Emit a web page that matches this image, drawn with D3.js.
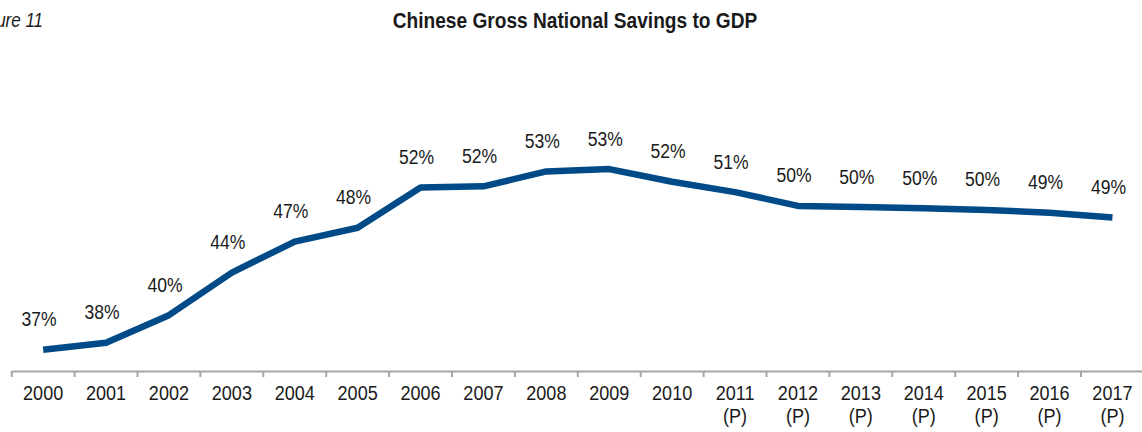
<!DOCTYPE html>
<html><head><meta charset="utf-8">
<script src="https://cdn.jsdelivr.net/npm/d3@7"></script>
<style>
html,body{margin:0;padding:0;background:#fff;}
svg{display:block;}
text{font-family:"Liberation Sans Narrow","Arial Narrow","Liberation Sans",Arial,sans-serif;fill:#1a1a1a;}
</style></head>
<body>
<svg id="chart" width="1142" height="432"></svg>
<script>
const categories = ["2000","2001","2002","2003","2004","2005","2006","2007","2008","2009","2010","2011","2012","2013","2014","2015","2016","2017"];
const projected = [false,false,false,false,false,false,false,false,false,false,false,true,true,true,true,true,true,true];
const savingsPct = [37.4,38.0,40.4,44.1,46.8,48.0,51.5,51.6,52.9,53.1,52.0,51.1,49.9,49.8,49.7,49.55,49.3,48.9];
const title = "Chinese Gross National Savings to GDP";
const figureLabel = "Figure 11";

const svg = d3.select("#chart");
const x = d3.scaleBand().domain(categories).range([11.7, 11.7 + 18 * 62.9]).padding(0);
const y = d3.scaleLinear().domain([30, 55]).range([434.75, 147.25]);
const axisY = 371;
const SX = 0.87; // condensed look

function addText(parent, px, py, str, size, anchor, sx, extra) {
  const t = parent.append("text")
    .attr("transform", `translate(${px},${py}) scale(${sx},1)`)
    .attr("text-anchor", anchor)
    .style("font-size", size + "px")
    .text(str);
  if (extra) extra(t);
  return t;
}

// Title
addText(svg, 575, 27.5, title, 22, "middle", SX, t => t.style("font-weight", "bold"));
addText(svg, 43, 27, figureLabel, 19.5, "end", SX, t => t.style("font-style", "italic"));

// Axis
const axis = d3.axisBottom(x).tickSize(0).tickFormat("");
const ag = svg.append("g").attr("transform", `translate(0,${axisY})`).call(axis);
ag.selectAll(".tick").remove();
ag.select(".domain").attr("stroke", "#a6a6a6").attr("stroke-width", 2)
  .attr("d", `M${x.range()[0]},0.5H1142`);
const bounds = categories.map((c) => x(c)).concat([x.range()[1]]);
ag.selectAll("line.bt").data(bounds.filter(b => b < 1142)).enter().append("line")
  .attr("class", "bt").attr("x1", d => d).attr("x2", d => d).attr("y1", 0).attr("y2", 6)
  .attr("stroke", "#a6a6a6").attr("stroke-width", 2);

const lab = svg.append("g");
categories.forEach((c, i) => {
  const cx = x(c) + x.bandwidth() / 2;
  addText(lab, cx, 400, c, 21, "middle", 0.86);
  if (projected[i]) addText(lab, cx, 423, "(P)", 21, "middle", 0.86);
});

// Line
const line = d3.line().x((d, i) => x(categories[i]) + x.bandwidth() / 2).y(d => y(d));
svg.append("path").datum(savingsPct).attr("d", line).attr("fill", "none")
  .attr("stroke", "#004b87").attr("stroke-width", 6.5).attr("stroke-linejoin", "round");

// Data labels
const dl = svg.append("g");
savingsPct.forEach((d, i) => {
  addText(dl, x(categories[i]) + x.bandwidth() / 2 - 4, y(d) - 23.5, Math.round(d) + "%", 19.5, "middle", 0.9);
});
</script>
</body></html>
